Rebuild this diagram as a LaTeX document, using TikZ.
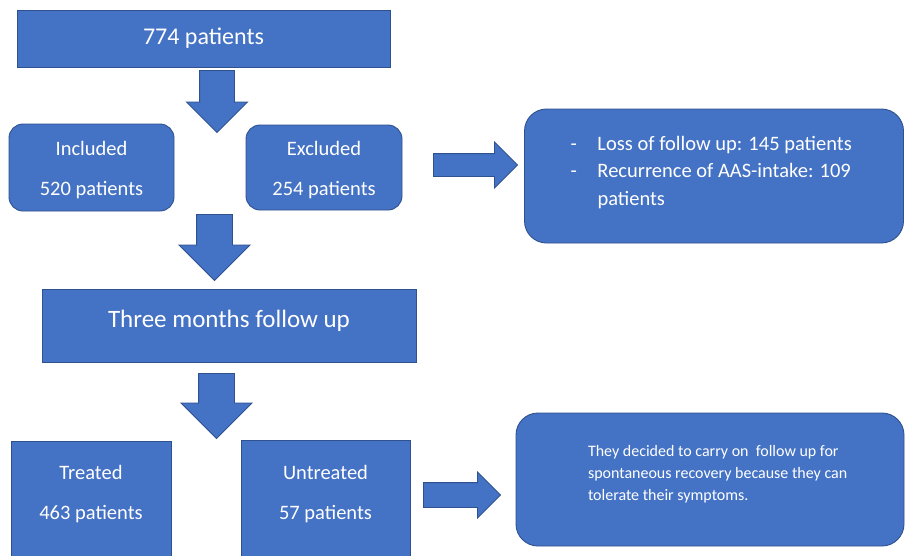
\documentclass[tikz,border=0pt]{standalone}
\usepackage{fontspec}
\setmainfont{Carlito}
\usepackage{tikz}
\usetikzlibrary{shapes.arrows}

\definecolor{boxblue}{HTML}{4472C4}
\definecolor{boxline}{HTML}{2F528F}

\begin{document}
\begin{tikzpicture}[x=1pt, y=-1pt, line width=0.9pt,
		box node/.style={draw=boxline, fill=boxblue, text=white, align=center, inner sep=0pt},
		round node/.style={box node, rounded corners=14pt},
		arrow node/.style={single arrow, draw=boxline, fill=boxblue, inner sep=0pt, minimum width=1pt, single arrow tip angle=90},
		text node/.style={text=white, inner sep=0pt}]

	\path[use as bounding box, fill=white] (0,0) rectangle (905,555);
	\clip (0,0) rectangle (905,555);

	\node[box node, minimum width=373pt, minimum height=57pt, font=\fontsize{24}{28}\selectfont] (all) at (203.5,38.5) {774 patients};
	\node[arrow node, rotate=-90, anchor=tail, inner ysep=17pt, single arrow head extend=13pt, minimum height=62pt] (a1) at (217,70) {};

	\node[round node, minimum width=165pt, minimum height=87pt, font=\fontsize{20.5}{40}\selectfont] (incl) at (91.5,167.5) {\rule{0pt}{20pt}Included\\520 patients};
	\node[round node, minimum width=156pt, minimum height=85pt, font=\fontsize{20.5}{40}\selectfont] (excl) at (324,167.5) {\rule{0pt}{20pt}Excluded\\254 patients};
	\node[arrow node, anchor=tail, inner ysep=11pt, single arrow head extend=11.5pt, minimum height=84pt] (a4) at (433,165) {};

	\node[box node, rounded corners=22pt, minimum width=379pt, minimum height=134pt] (loss) at (714,176) {};
	\node[text node, anchor=north west, align=left, font=\fontsize{20.5}{27.5}\selectfont] (losstxt) at ([xshift=46pt,yshift=-27pt]loss.north west)
		{\makebox[27pt][l]{-}Loss of follow up: 145 patients\\
		 \makebox[27pt][l]{-}Recurrence of AAS-intake: 109\\
		 \makebox[27pt][l]{}patients};

	\node[arrow node, rotate=-90, anchor=tail, inner ysep=17.5pt, single arrow head extend=17.5pt, minimum height=66pt] (a2) at (214.5,214) {};
	\node[box node, minimum width=374pt, minimum height=73pt, font=\fontsize{25}{30}\selectfont] (three) at (229,325.5) {Three months follow up\rule[-13pt]{0pt}{0pt}};
	\node[arrow node, rotate=-90, anchor=tail, inner ysep=17.5pt, single arrow head extend=17.5pt, minimum height=65pt] (a3) at (216.5,373) {};

	\node[box node, anchor=north, minimum width=160pt, minimum height=140pt] (treat) at (91,441) {};
	\node[text node, align=center, font=\fontsize{20.5}{40}\selectfont] (treattxt) at ([yshift=-53pt]treat.north) {Treated\\463 patients};
	\node[box node, anchor=north, minimum width=169pt, minimum height=140pt] (untreat) at (325.5,440) {};
	\node[text node, align=center, font=\fontsize{20.5}{40}\selectfont] (untreattxt) at ([yshift=-54pt]untreat.north) {Untreated\\57 patients};
	\node[arrow node, anchor=tail, inner ysep=12pt, single arrow head extend=10.5pt, minimum height=77pt] (a5) at (423,495) {};

	\node[box node, rounded corners=22pt, minimum width=388pt, minimum height=133pt] (decide) at (710,479.5) {};
	\node[text node, anchor=north west, align=left, font=\fontsize{16}{22}\selectfont] (decidetxt) at ([xshift=72pt,yshift=-32.5pt]decide.north west)
		{They decided to carry on~ follow up for\\
		 spontaneous recovery because they can\\
		 tolerate their symptoms.};
\end{tikzpicture}
\end{document}
